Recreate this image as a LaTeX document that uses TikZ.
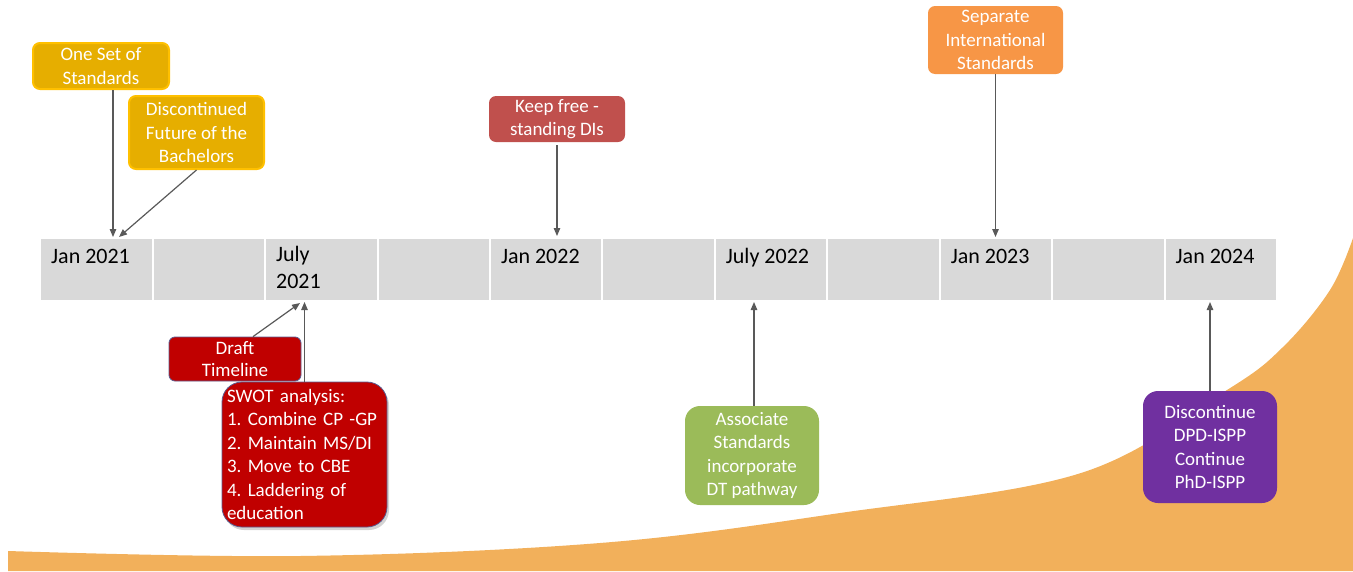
\documentclass[tikz,border=0pt]{standalone}
\usepackage{fontspec}
\setmainfont{Carlito}
\usetikzlibrary{arrows.meta,shadows}

\definecolor{wave}{HTML}{F2B05B}
\definecolor{tlgray}{HTML}{D9D9D9}
\definecolor{gold}{HTML}{E6AE00}
\definecolor{goldedge}{HTML}{FFC000}
\definecolor{brick}{HTML}{C0504D}
\definecolor{tangerine}{HTML}{F79646}
\definecolor{darkred}{HTML}{C00000}
\definecolor{redge}{HTML}{5B5B8F}
\definecolor{leaf}{HTML}{9BBB59}
\definecolor{plum}{HTML}{7030A0}
\definecolor{arrowgray}{HTML}{595959}

\tikzset{
  cell/.style={fill=tlgray, minimum width=110.45pt, minimum height=61pt, anchor=north west, inner sep=0pt},
  datelbl/.style={anchor=north west, inner sep=0pt, align=left, font=\fontsize{22}{27}\selectfont,
                  execute at begin node={\rule{0pt}{17pt}}},
  event/.style={rounded corners=7pt, text=white, align=center, inner sep=0pt, font=\fontsize{19}{23.5}\selectfont\frenchspacing},
  goldbox/.style={event, fill=gold, draw=goldedge, line width=2pt},
  redbox/.style={event, fill=darkred, draw=redge, line width=0.8pt},
  link/.style={draw=arrowgray, line width=1.2pt, -{Triangle[length=8pt,width=6.5pt]}},
}

\begin{document}
\begin{tikzpicture}[x=1pt,y=-1pt]
    \useasboundingbox (0,0) rectangle (1353,571);

    % draw orange wave
    \fill[wave] plot[smooth,tension=0.6] coordinates {(8,551) (300,556) (600,543) (840,513) (1081,473) (1227,390) (1283,347) (1330,290) (1353,238)} -- (1353,571) -- (8,571) -- cycle;

    % draw timeline cells
    \foreach \i in {0,...,10}
      \node[cell] (c\i) at ({41+\i*112.45},239) {};

    % draw dates
    \foreach \i/\d in {0/Jan 2021, 2/{July\\2021}, 4/Jan 2022, 6/July 2022, 8/Jan 2023, 10/Jan 2024}
      \node[datelbl] (d\i) at ([xshift=10pt,yshift=-7pt]c\i.north west) {\d};

    % draw events above
    \node[goldbox, minimum width=136pt, minimum height=46pt] (oneset) at (101,66) {One Set of\\Standards};
    \node[goldbox, minimum width=135pt, minimum height=73pt] (discont) at (196.5,132.5) {Discontinued\\Future of the\\Bachelors};
    \node[event, fill=brick, minimum width=136pt, minimum height=46pt] (keep) at (557,119) {Keep free -\\standing DIs};
    \node[event, fill=tangerine, minimum width=135pt, minimum height=68pt] (sepintl) at (995.5,40) {Separate\\International\\Standards};

    % draw events below
    \node[redbox, rounded corners=6pt, minimum width=132pt, minimum height=44pt] (draft) at (235,359) {Draft\\[-1pt]Timeline};
    \node[redbox, rounded corners=20pt, align=left, text width=155pt, inner xsep=5pt, minimum height=145pt,
          drop shadow={shadow xshift=2pt, shadow yshift=-3pt, opacity=0.35}] (swot) at (304.5,454.5)
          {SWOT analysis:\\1. Combine CP -GP\\2. Maintain MS/DI\\3. Move to CBE\\4. Laddering of\\education};
    \node[event, fill=leaf, rounded corners=15pt, minimum width=134pt, minimum height=99pt] (assoc) at (752,455.5) {Associate\\Standards\\incorporate\\DT pathway};
    \node[event, fill=plum, rounded corners=15pt, minimum width=134pt, minimum height=112pt] (phd) at (1210,447) {Discontinue\\DPD-ISPP\\Continue\\PhD-ISPP};

    % draw arrows
    \coordinate (t0a) at (113,237);
    \coordinate (t0b) at (119,237);
    \coordinate (t4) at (557,236);
    \coordinate (t8) at (995.5,237);
    \coordinate (t2a) at (300,303);
    \coordinate (t2b) at (304.5,302);
    \coordinate (t6) at (754,302);
    \coordinate (t10) at (1210,302);

    \draw[link] (oneset.south -| t0a) -- (t0a);
    \draw[link] (discont.south) -- (t0b);
    \draw[link, shorten <=3pt] (keep.south) -- (t4);
    \draw[link] (sepintl.south) -- (t8);
    \draw[link] ([xshift=18pt]draft.north) -- (t2a);
    \draw[link] (swot.north) -- (t2b);
    \draw[link] (assoc.north -| t6) -- (t6);
    \draw[link] (phd.north) -- (t10);

\end{tikzpicture}
\end{document}
